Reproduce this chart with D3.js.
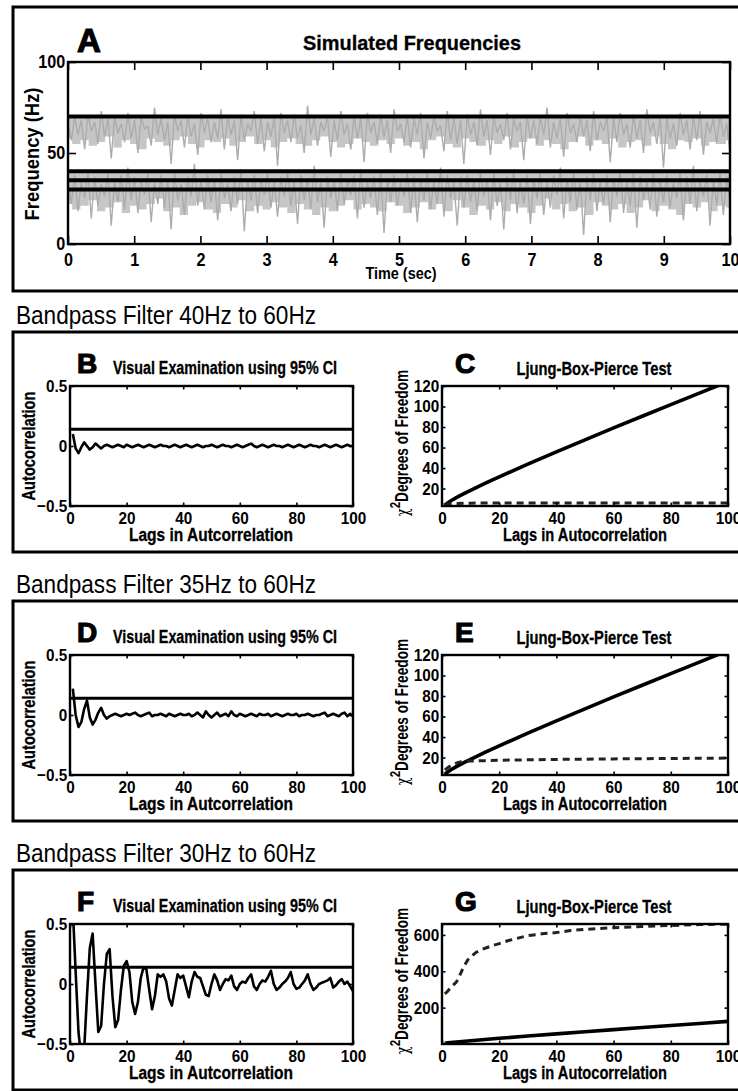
<!DOCTYPE html>
<html>
<head>
<meta charset="utf-8">
<script src="https://cdn.jsdelivr.net/npm/d3@7"></script>
<style>
  body { margin: 0; background: #fff; }
</style>
</head>
<body>
<svg id="fig" width="738" height="1091"></svg>
<script>
// Panel A: simulated frequencies
var timeTicks = [0, 1, 2, 3, 4, 5, 6, 7, 8, 9, 10];
var freqTicks = [0, 50, 100];
var bandLines = [70, 40, 35, 30];

// lower edge of the dense grey under the 70 Hz and 40 Hz lines (every 0.125 s)
var upperCoreBottom = [
  58,55,57,54,56,59,53,57,55,52,58,56,54,57,59,55,53,57,56,58,
  54,56,59,55,57,53,56,58,55,54,57,59,56,53,55,58,56,54,57,55,
  58,54,56,52,57,59,55,53,58,56,54,57,55,59,53,56,58,54,57,55,
  52,56,59,54,57,55,58,53,56,57,54,59,55,52,57,56,58,54,56,55,
  57
];
var lowerCoreBottom = [
  22,19,21,24,18,20,23,17,21,19,22,25,18,20,16,21,23,19,17,22,
  20,24,18,21,19,23,20,17,22,19,16,20,18,21,24,19,22,20,18,23,
  21,17,20,23,19,22,18,24,20,16,21,19,23,18,22,20,17,21,25,19,
  22,18,20,16,23,21,19,22,17,20,24,18,21,19,16,22,20,23,18,21,
  20
];

// the spiky traces themselves
var upperSignal = [
  66,57,70,60,68,52,71,62,67,55,73,59,69,47,70,61,66,56,72,58,
  68,50,70,63,65,54,75,60,69,57,67,44,71,62,68,53,70,59,66,49,
  72,61,69,56,67,58,74,52,70,60,68,46,71,57,66,62,73,55,69,51,
  67,59,70,43,72,61,68,56,71,58,65,50,76,60,69,54,67,62,70,48,
  68,57,73,60,66,52,70,58,69,45,72,61,67,55,71,59,68,50,74,62,
  66,56,70,53,69,60,72,47,67,58,70,62,65,51,73,57,69,55,68,44,
  71,60,67,54,74,59,68,49,70,61,66,57,72,52,69,62,67,46,71,58,
  68,55,70,60,75,53,67,58,69,48,72,61,66,56,70,59,68,51,73,57,
  67,62,70,45,69,56,72,60,66,53,71,58,68,50,74,61,67,55,70,42,
  69,58,66,54,72,60,68,52,70,57,73,49,67,61,69,55,71,59,66,50
];
var lowerSignal = [
  36,22,38,18,34,25,40,14,37,21,33,26,39,10,35,23,38,19,42,24,
  37,17,35,27,39,12,34,22,38,20,36,8,40,24,33,16,37,26,44,21,
  35,19,38,23,36,13,39,25,34,18,37,22,41,7,35,24,38,17,36,27,
  39,20,34,15,37,26,40,21,35,11,38,24,36,19,43,23,34,9,37,25,
  36,18,39,22,35,27,38,14,41,20,34,25,37,16,39,6,36,23,38,21,
  34,26,40,17,37,12,36,24,39,19,35,22,42,15,38,25,34,10,37,20,
  38,23,35,18,40,26,36,13,39,21,34,8,37,24,41,17,35,22,38,11,
  36,25,39,16,34,20,38,27,42,14,36,23,40,19,35,5,37,24,39,18,
  35,22,38,12,36,26,41,17,34,21,39,9,37,24,35,19,40,15,36,23,
  38,20,34,25,39,13,37,22,43,18,35,26,38,10,36,21,39,16,37,24
];

// Autocorrelation (lags 1..100)
var lagTicks = [0, 20, 40, 60, 80, 100];
var acfTicks = [-0.5, 0, 0.5];
var ciLevel = 0.14;

var acf4060 = [
  0.10,-0.02,-0.06,-0.01,0.03,0.00,-0.03,-0.01,0.02,0.00,
  -0.02,0.00,0.01,0.00,-0.01,0.00,0.01,0.00,-0.01,0.01,
  0.00,-0.01,0.00,0.01,0.00,-0.01,0.00,0.01,0.00,-0.01,
  0.00,0.01,0.00,0.00,-0.01,0.00,0.01,0.00,-0.01,0.00,
  0.01,0.00,-0.01,0.00,0.01,0.00,-0.01,0.00,0.00,0.01,
  0.00,-0.01,0.00,0.01,0.00,0.00,-0.01,0.00,0.01,0.00,
  -0.01,0.00,0.01,0.02,0.00,-0.01,0.00,0.01,0.00,-0.01,
  0.00,0.01,0.00,0.00,-0.01,0.00,0.01,0.00,-0.01,0.00,
  0.01,0.00,-0.01,0.00,0.01,0.00,0.00,-0.01,0.00,0.01,
  0.00,-0.01,0.00,0.01,0.00,-0.01,0.00,0.01,0.00,0.00
];
var acf3560 = [
  0.22,0.00,-0.10,-0.06,0.05,0.12,-0.02,-0.08,-0.04,0.02,
  0.06,0.00,-0.03,-0.01,0.00,0.01,0.00,-0.01,0.00,0.01,
  0.00,0.01,0.02,0.00,-0.01,0.00,0.01,0.02,-0.01,0.00,
  0.00,0.01,0.00,-0.01,0.01,0.00,-0.01,0.00,0.01,0.00,
  0.00,0.01,-0.01,0.00,0.02,0.00,-0.02,0.03,0.00,-0.02,
  0.00,0.02,-0.01,0.00,0.01,-0.01,0.03,0.00,-0.01,0.01,
  0.00,-0.01,0.00,0.01,0.00,-0.01,0.01,0.00,0.00,0.01,
  -0.01,0.00,0.01,0.00,-0.01,0.00,0.01,0.00,0.00,0.01,
  -0.01,0.00,0.00,0.01,0.00,-0.01,0.00,0.00,0.01,0.02,
  -0.01,0.00,0.01,0.00,-0.01,0.01,0.02,-0.01,0.01,-0.01
];
var acf3060 = [
  0.62,0.10,-0.40,-0.62,-0.55,-0.10,0.30,0.42,0.00,-0.40,
  -0.35,0.00,0.25,0.29,-0.10,-0.36,-0.30,-0.05,0.15,0.19,
  0.10,-0.15,-0.25,-0.15,0.05,0.14,0.12,-0.05,-0.21,-0.10,
  0.08,0.06,0.08,0.02,-0.12,-0.18,-0.05,0.08,0.05,0.07,
  -0.02,-0.11,0.02,0.10,0.06,0.05,-0.02,-0.09,-0.10,0.00,
  0.08,0.03,-0.05,0.00,0.04,0.03,0.07,-0.02,-0.05,0.00,
  0.02,0.01,0.05,0.08,-0.02,-0.05,0.00,0.03,0.02,0.06,
  0.11,0.00,-0.05,-0.03,0.00,0.02,0.05,0.10,0.00,-0.04,
  -0.03,0.00,0.03,0.08,0.00,-0.05,-0.03,0.00,0.01,0.02,
  0.03,0.05,-0.03,-0.01,0.02,0.04,0.00,0.02,-0.02,-0.06
];

// Ljung-Box-Pierce
var chiLags = [1,2,3,4,5,6,8,10,15,20,30,40,50,60,70,80,90,100];
var chiCrit = [3.8,6.0,7.8,9.5,11.1,12.6,15.5,18.3,25.0,31.4,43.8,55.8,67.5,79.1,90.5,101.9,113.1,124.3];

var lbpLags4060 = [1,2,3,5,10,20,40,60,80,100];
var lbp4060 = [3.5,4.5,5,5.5,5.8,6,6,6,6,6];
var lbpLags3560 = [1,2,3,4,5,6,8,10,15,20,30,40,60,80,100];
var lbp3560 = [8,10,12,13.5,14.5,15.5,16.2,16.6,17,17.4,17.8,18.2,18.7,19.1,19.5];
var lbpLags3060 = [1,2,3,4,5,6,7,8,9,10,12,14,16,18,20,23,26,30,35,40,45,50,60,70,80,90,100];
var lbp3060 = [276,290,310,325,340,370,405,435,462,478,505,520,532,543,552,568,580,596,606,613,624,630,640,646,652,657,659];

var chiTicksSmall = [20, 40, 60, 80, 100, 120];
var chiTicksLarge = [200, 400, 600];

var headers = ["Bandpass Filter 40Hz to 60Hz", "Bandpass Filter 35Hz to 60Hz", "Bandpass Filter 30Hz to 60Hz"];

var svg = d3.select("#fig");
var FONT = "'Liberation Sans',Arial,Helvetica,sans-serif";
var clipId = 0;

function label(g, txt, x, y, o) {
  o = o || {};
  var t = g.append("text")
    .attr("x", x).attr("y", y)
    .attr("font-family", FONT)
    .attr("font-size", o.size || 16)
    .attr("font-weight", o.weight || "bold")
    .attr("text-anchor", o.anchor || "start")
    .text(txt);
  if (o.width) t.attr("textLength", o.width).attr("lengthAdjust", "spacingAndGlyphs");
  if (o.rotate) t.attr("transform", "rotate(-90," + x + "," + y + ")");
  if (o.heavy) t.attr("stroke", "#000").attr("stroke-width", o.heavy);
  return t;
}

// MATLAB-like box with inward ticks on all sides
function box(g, x, y, xTicks, yTicks, o) {
  var xr = x.range(), yr = y.range();
  var tl = o.tick;
  var bottom = g.append("g").attr("transform", "translate(0," + yr[0] + ")")
    .call(d3.axisBottom(x).tickValues(xTicks).tickSize(-tl).tickSizeOuter(0)
      .tickPadding(o.xPad).tickFormat(d3.format("")));
  var left = g.append("g").attr("transform", "translate(" + xr[0] + ",0)")
    .call(d3.axisLeft(y).tickValues(yTicks).tickSize(-tl).tickSizeOuter(0)
      .tickPadding(3).tickFormat(d3.format("")));
  var top = g.append("g").attr("transform", "translate(0," + yr[1] + ")")
    .call(d3.axisTop(x).tickValues(xTicks).tickSize(-tl).tickSizeOuter(0).tickFormat(""));
  var right = g.append("g").attr("transform", "translate(" + xr[1] + ",0)")
    .call(d3.axisRight(y).tickValues(yTicks).tickSize(-tl).tickSizeOuter(0).tickFormat(""));
  [bottom, left, top, right].forEach(function (a) {
    a.select(".domain").remove();
    a.selectAll("line").attr("stroke-width", 1.6);
    a.selectAll("text").attr("font-family", FONT).attr("font-weight", "bold")
      .attr("font-size", o.font).attr("fill", "#000")
      .attr("transform", "scale(0.9,1)");  // condensed look of the original face
  });
  g.append("rect")
    .attr("x", xr[0]).attr("y", yr[1])
    .attr("width", xr[1] - xr[0]).attr("height", yr[0] - yr[1])
    .attr("fill", "none").attr("stroke", "#000").attr("stroke-width", 2.4);
}

function clipTo(g, x, y) {
  var id = "clip" + (clipId++);
  var xr = x.range(), yr = y.range();
  g.append("clipPath").attr("id", id).append("rect")
    .attr("x", xr[0]).attr("y", yr[1]).attr("width", xr[1] - xr[0]).attr("height", yr[0] - yr[1]);
  return g.append("g").attr("clip-path", "url(#" + id + ")");
}

// ---------- Panel A ----------
svg.append("rect").attr("x", 13).attr("y", 7).attr("width", 760).attr("height", 284)
  .attr("fill", "none").attr("stroke", "#000").attr("stroke-width", 3);

var ax = d3.scaleLinear().domain([0, 10]).range([68, 730]);
var ay = d3.scaleLinear().domain([0, 100]).range([244, 62]);
var gA = svg.append("g");
var plotA = clipTo(gA, ax, ay);

function tAt(arr) { return function (d, i) { return ax(i * 10 / (arr.length - 1)); }; }

// dense grey hanging under the 70 Hz and 40 Hz lines
[[bandLines[0], upperCoreBottom], [bandLines[1], lowerCoreBottom]].forEach(function (b) {
  plotA.append("path").datum(b[1])
    .attr("d", d3.area().x(tAt(b[1]))
      .y0(function (d) { return ay(d); })
      .y1(ay(b[0])).curve(d3.curveStep))
    .attr("fill", "#c6c6c6");
});

[upperSignal, lowerSignal].forEach(function (sig) {
  plotA.append("path").datum(sig)
    .attr("d", d3.line().x(tAt(sig)).y(function (d) { return ay(d); }))
    .attr("fill", "none").attr("stroke", "#acacac").attr("stroke-width", 1.4)
    .attr("stroke-linejoin", "bevel");
});

plotA.selectAll("line.band").data(bandLines).enter().append("line")
  .attr("class", "band")
  .attr("x1", ax(0)).attr("x2", ax(10))
  .attr("y1", function (d) { return ay(d); }).attr("y2", function (d) { return ay(d); })
  .attr("stroke", "#000").attr("stroke-width", 4);

box(gA, ax, ay, timeTicks, freqTicks, { tick: 8, xPad: 9, font: 18 });
label(gA, "A", 77, 52, { size: 33, weight: 900, heavy: 1.2 });
label(gA, "Simulated Frequencies", 412, 50, { anchor: "middle", size: 21, width: 218, heavy: 0.3 });
label(gA, "Time (sec)", 401, 279, { anchor: "middle", size: 16, width: 71 });
label(gA, "Frequency (Hz)", 39, 154, { anchor: "middle", size: 20, width: 133, rotate: true });

// ---------- Sections B..G ----------
var sections = [
  { hdr: headers[0], acf: acf4060, lbpLags: lbpLags4060, lbp: lbp4060, L: "B", R: "C", yDom: [3, 120], yTicks: chiTicksSmall },
  { hdr: headers[1], acf: acf3560, lbpLags: lbpLags3560, lbp: lbp3560, L: "D", R: "E", yDom: [3, 120], yTicks: chiTicksSmall },
  { hdr: headers[2], acf: acf3060, lbpLags: lbpLags3060, lbp: lbp3060, L: "F", R: "G", yDom: [0, 660], yTicks: chiTicksLarge }
];

sections.forEach(function (s, k) {
  var off = k * 269;
  var g = svg.append("g").attr("transform", "translate(0," + off + ")");

  label(g, s.hdr, 16, 324, { size: 25, weight: "normal", width: 300 });
  g.append("rect").attr("x", 13).attr("y", 332).attr("width", 760).attr("height", 220)
    .attr("fill", "none").attr("stroke", "#000").attr("stroke-width", 3);

  // left: autocorrelation
  var lx = d3.scaleLinear().domain([0, 100]).range([70, 353]);
  var ly = d3.scaleLinear().domain([-0.5, 0.5]).range([506, 386]);
  var pl = clipTo(g, lx, ly);
  pl.append("line").attr("x1", lx(0)).attr("x2", lx(100))
    .attr("y1", ly(ciLevel)).attr("y2", ly(ciLevel))
    .attr("stroke", "#000").attr("stroke-width", 3);
  pl.append("path").datum(s.acf)
    .attr("d", d3.line().x(function (d, i) { return lx(i + 1); }).y(function (d) { return ly(d); }))
    .attr("fill", "none").attr("stroke", "#000").attr("stroke-width", 2.6).attr("stroke-linejoin", "round");
  box(g, lx, ly, lagTicks, acfTicks, { tick: 3.5, xPad: 6, font: 17 });
  label(g, s.L, 77, 373, { size: 28, weight: 900, heavy: 1.2 });
  label(g, "Visual Examination using 95% CI", 225, 374, { anchor: "middle", size: 18, width: 224, heavy: 0.3 });
  label(g, "Lags in Autcorrelation", 211, 541, { anchor: "middle", size: 18, width: 164, heavy: 0.3 });
  label(g, "Autocorrelation", 35, 446, { anchor: "middle", size: 19, width: 109, rotate: true, heavy: 0.3 });

  // right: Ljung-Box-Pierce
  var rx = d3.scaleLinear().domain([0, 100]).range([442, 728]);
  var ry = d3.scaleLinear().domain(s.yDom).range([506, 386]);
  var pr = clipTo(g, rx, ry);
  pr.append("path").datum(chiLags.map(function (l, i) { return [l, chiCrit[i]]; }))
    .attr("d", d3.line().x(function (d) { return rx(d[0]); }).y(function (d) { return ry(d[1]); }))
    .attr("fill", "none").attr("stroke", "#000").attr("stroke-width", 3.6);
  pr.append("path").datum(s.lbpLags.map(function (l, i) { return [l, s.lbp[i]]; }))
    .attr("d", d3.line().x(function (d) { return rx(d[0]); }).y(function (d) { return ry(d[1]); }))
    .attr("fill", "none").attr("stroke", "#222").attr("stroke-width", 3).attr("stroke-dasharray", "7,5");
  box(g, rx, ry, lagTicks, s.yTicks, { tick: 3.5, xPad: 6, font: 17 });
  label(g, s.R, 455, 373, { size: 28, weight: 900, heavy: 1.2 });
  label(g, "Ljung-Box-Pierce Test", 594, 375, { anchor: "middle", size: 18, width: 155, heavy: 0.3 });
  label(g, "Lags in Autocorrelation", 585, 541, { anchor: "middle", size: 18, width: 164, heavy: 0.3 });

  var yl = g.append("text")
    .attr("transform", "translate(408,443) rotate(-90) scale(0.76,1)")
    .attr("text-anchor", "middle")
    .attr("font-family", FONT).attr("font-weight", "bold").attr("font-size", 18);
  yl.append("tspan").attr("font-family", "'DejaVu Serif',serif").attr("font-weight", "normal").attr("font-size", 17).text("\u03c7");
  yl.append("tspan").attr("dy", -8).attr("font-size", 15).text("2");
  yl.append("tspan").attr("dy", 8).text("Degrees of Freedom");
});
</script>
</body>
</html>
